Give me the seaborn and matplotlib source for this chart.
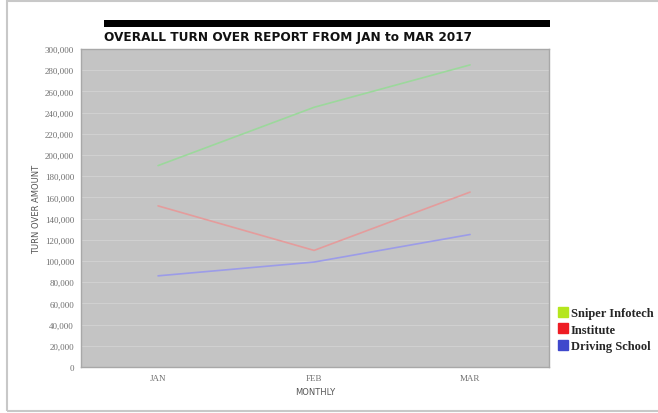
import matplotlib
matplotlib.use("Agg")
import matplotlib.pyplot as plt
from matplotlib.patches import Rectangle
from matplotlib.lines import Line2D
from matplotlib.ticker import FuncFormatter, MultipleLocator
import seaborn as sns
import pandas as pd

months = ["JAN", "FEB", "MAR"]
series_names = ["Sniper Infotech", "Institute", "Driving School"]
sniper = [190000, 245000, 285000]
institute = [152000, 110000, 165000]
driving = [86000, 99000, 125000]
title = "OVERALL TURN OVER REPORT FROM JAN to MAR 2017"

line_colors = ["#9cd89c", "#e49c9c", "#9c9ce8"]
legend_colors = ["#b5e61d", "#ee1c24", "#3f48cc"]

rows = []
for name, vals in zip(series_names, [sniper, institute, driving]):
    for m, v in zip(months, vals):
        rows.append({"month": m, "series": name, "value": v})
df = pd.DataFrame(rows)

sns.set_style("white")
fig = plt.figure(figsize=(6.58, 4.14), dpi=100)
fig.patch.set_facecolor("white")
ax = fig.add_axes([81/658, 46/414, 468/658, 318/414])
ax.set_facecolor("#c4c4c4")

sns.lineplot(data=df, x="month", y="value", hue="series", palette=line_colors,
             hue_order=series_names, sort=False, ax=ax, linewidth=1.2, legend=False)

ax.set_xlim(-0.494, 2.506)
ax.set_ylim(0, 300000)
ax.yaxis.set_major_locator(MultipleLocator(20000))
ax.yaxis.set_major_formatter(FuncFormatter(lambda v, p: f"{int(v):,}"))
ax.grid(axis="y", color="#d0d0d0", linewidth=0.8)
ax.grid(axis="x", visible=False)
ax.set_axisbelow(True)
for s in ax.spines.values():
    s.set_color("#a8a8a8")
    s.set_linewidth(1.0)
ax.tick_params(axis="both", labelsize=6.5, colors="#888888", length=2, width=0.5,
               pad=3)
for lab in ax.get_xticklabels() + ax.get_yticklabels():
    lab.set_family("Liberation Serif")
    lab.set_color("#707070")
ax.set_xlabel("MONTHLY", fontsize=6, color="#555555", labelpad=4)
ax.set_ylabel("TURN OVER AMOUNT", fontsize=6, color="#555555", labelpad=3)

# title bar and title
fig.patches.append(Rectangle((104/658, 1 - 28/414), 446/658, 7/414,
                             transform=fig.transFigure, facecolor="black",
                             edgecolor="none"))
fig.text(104/658, 1 - 37/414, title, fontsize=8.7, fontweight="bold",
         color="#111111", va="center", ha="left", family="DejaVu Sans")

# outer frame
fig.patches.append(Rectangle((7/658, 2/414), 660/658, 410/414,
                             transform=fig.transFigure, facecolor="none",
                             edgecolor="#c8c8c8", linewidth=1.5))

handles = [Line2D([0], [0], marker="s", linestyle="none", markersize=6.5,
                  markerfacecolor=c, markeredgecolor=c) for c in legend_colors]
leg = fig.legend(handles, series_names, loc="upper left",
                 bbox_to_anchor=(545/658, 1 - 297/414), frameon=False,
                 handletextpad=0.15, labelspacing=0.35, handlelength=1.0,
                 prop={"family": "Liberation Serif", "weight": "bold", "size": 9})

fig.savefig("out.png", dpi=100)
